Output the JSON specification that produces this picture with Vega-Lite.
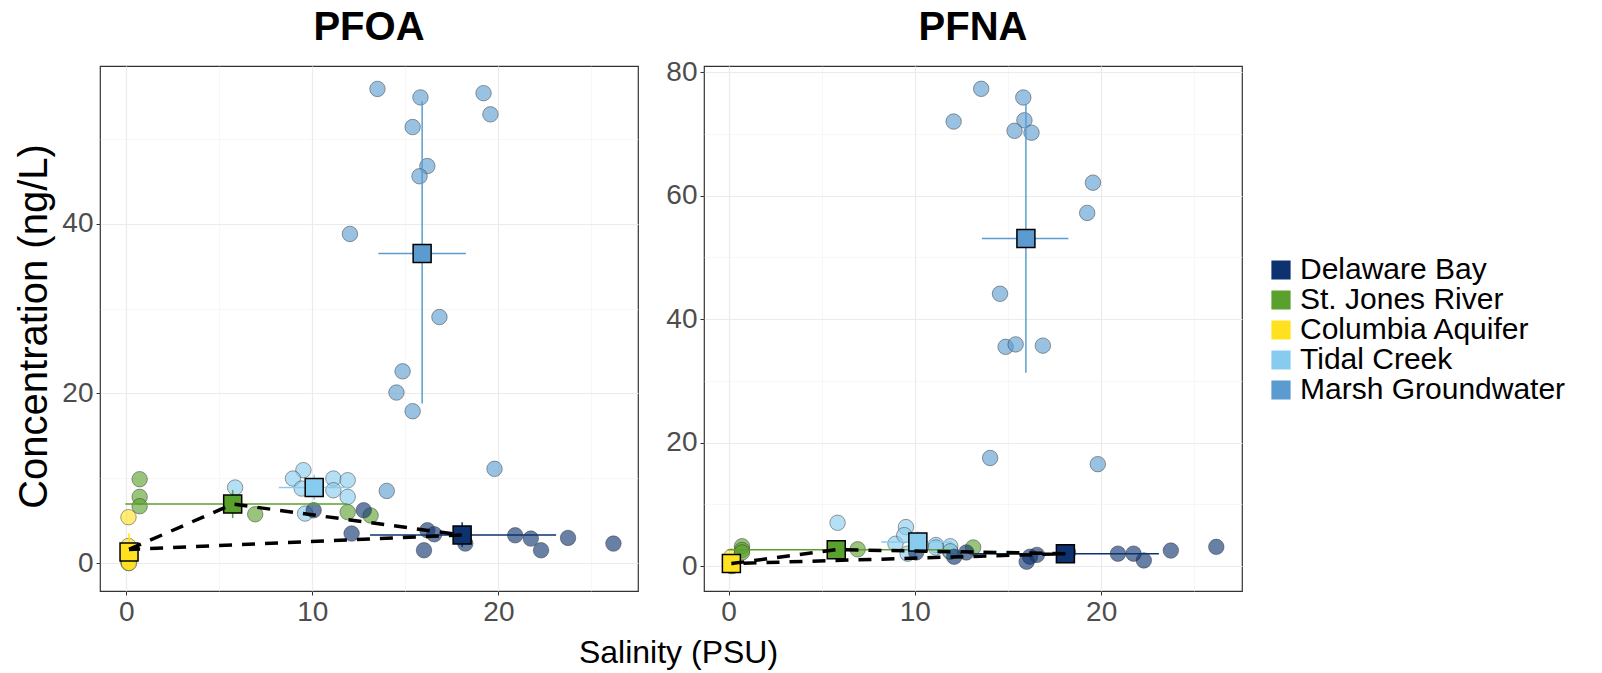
{
  "$schema": "https://vega.github.io/schema/vega-lite/v6.json",
  "autosize": {"type": "none"},
  "padding": {"left": 100, "top": 66, "right": 1502, "bottom": 607},
  "background": "white",
  "datasets": {
    "obs": [
      {"panel": "PFOA", "site": "Columbia Aquifer", "sal": 0.12, "conc": 5.4},
      {"panel": "PFOA", "site": "Columbia Aquifer", "sal": 0.12, "conc": 2.0},
      {"panel": "PFOA", "site": "Columbia Aquifer", "sal": 0.12, "conc": 0.6},
      {"panel": "PFOA", "site": "Columbia Aquifer", "sal": 0.12, "conc": 0.2},
      {"panel": "PFOA", "site": "Columbia Aquifer", "sal": 0.12, "conc": 0.0},
      {"panel": "PFOA", "site": "Columbia Aquifer", "sal": 0.15, "conc": 0.0},
      {"panel": "PFOA", "site": "St. Jones River", "sal": 0.72, "conc": 9.88},
      {"panel": "PFOA", "site": "St. Jones River", "sal": 0.72, "conc": 7.8},
      {"panel": "PFOA", "site": "St. Jones River", "sal": 0.72, "conc": 6.7},
      {"panel": "PFOA", "site": "St. Jones River", "sal": 6.93, "conc": 5.75},
      {"panel": "PFOA", "site": "St. Jones River", "sal": 11.9, "conc": 6.0},
      {"panel": "PFOA", "site": "St. Jones River", "sal": 13.13, "conc": 5.6},
      {"panel": "PFOA", "site": "Tidal Creek", "sal": 5.85, "conc": 8.9},
      {"panel": "PFOA", "site": "Tidal Creek", "sal": 9.52, "conc": 10.95},
      {"panel": "PFOA", "site": "Tidal Creek", "sal": 8.96, "conc": 9.96},
      {"panel": "PFOA", "site": "Tidal Creek", "sal": 9.43, "conc": 8.78},
      {"panel": "PFOA", "site": "Tidal Creek", "sal": 9.61, "conc": 5.83},
      {"panel": "PFOA", "site": "Tidal Creek", "sal": 11.13, "conc": 9.96},
      {"panel": "PFOA", "site": "Tidal Creek", "sal": 11.9, "conc": 9.76},
      {"panel": "PFOA", "site": "Tidal Creek", "sal": 11.9, "conc": 7.8},
      {"panel": "PFOA", "site": "Tidal Creek", "sal": 11.13, "conc": 8.58},
      {"panel": "PFOA", "site": "Delaware Bay", "sal": 10.07, "conc": 6.22},
      {"panel": "PFOA", "site": "Delaware Bay", "sal": 12.76, "conc": 6.22},
      {"panel": "PFOA", "site": "Delaware Bay", "sal": 12.11, "conc": 3.47},
      {"panel": "PFOA", "site": "Delaware Bay", "sal": 16.18, "conc": 3.86},
      {"panel": "PFOA", "site": "Delaware Bay", "sal": 16.55, "conc": 3.39},
      {"panel": "PFOA", "site": "Delaware Bay", "sal": 16.0, "conc": 1.5},
      {"panel": "PFOA", "site": "Delaware Bay", "sal": 18.22, "conc": 2.29},
      {"panel": "PFOA", "site": "Delaware Bay", "sal": 20.9, "conc": 3.27},
      {"panel": "PFOA", "site": "Delaware Bay", "sal": 21.74, "conc": 2.88},
      {"panel": "PFOA", "site": "Delaware Bay", "sal": 22.29, "conc": 1.5},
      {"panel": "PFOA", "site": "Delaware Bay", "sal": 23.74, "conc": 2.96},
      {"panel": "PFOA", "site": "Delaware Bay", "sal": 26.18, "conc": 2.29},
      {"panel": "PFOA", "site": "Marsh Groundwater", "sal": 13.5, "conc": 55.9},
      {"panel": "PFOA", "site": "Marsh Groundwater", "sal": 15.81, "conc": 54.9},
      {"panel": "PFOA", "site": "Marsh Groundwater", "sal": 19.2, "conc": 55.4},
      {"panel": "PFOA", "site": "Marsh Groundwater", "sal": 19.57, "conc": 52.9},
      {"panel": "PFOA", "site": "Marsh Groundwater", "sal": 15.39, "conc": 51.4},
      {"panel": "PFOA", "site": "Marsh Groundwater", "sal": 16.18, "conc": 46.8},
      {"panel": "PFOA", "site": "Marsh Groundwater", "sal": 15.76, "conc": 45.6},
      {"panel": "PFOA", "site": "Marsh Groundwater", "sal": 12.02, "conc": 38.8},
      {"panel": "PFOA", "site": "Marsh Groundwater", "sal": 16.83, "conc": 29.0},
      {"panel": "PFOA", "site": "Marsh Groundwater", "sal": 14.85, "conc": 22.6},
      {"panel": "PFOA", "site": "Marsh Groundwater", "sal": 14.52, "conc": 20.1},
      {"panel": "PFOA", "site": "Marsh Groundwater", "sal": 15.39, "conc": 17.9},
      {"panel": "PFOA", "site": "Marsh Groundwater", "sal": 14.0, "conc": 8.5},
      {"panel": "PFOA", "site": "Marsh Groundwater", "sal": 19.79, "conc": 11.1},
      {"panel": "PFNA", "site": "Columbia Aquifer", "sal": 0.15, "conc": 1.5},
      {"panel": "PFNA", "site": "Columbia Aquifer", "sal": 0.15, "conc": 0.5},
      {"panel": "PFNA", "site": "Columbia Aquifer", "sal": 0.15, "conc": 0.3},
      {"panel": "PFNA", "site": "Columbia Aquifer", "sal": 0.15, "conc": 0.1},
      {"panel": "PFNA", "site": "Columbia Aquifer", "sal": 0.15, "conc": 0.0},
      {"panel": "PFNA", "site": "Columbia Aquifer", "sal": 0.2, "conc": 0.0},
      {"panel": "PFNA", "site": "St. Jones River", "sal": 0.72, "conc": 3.2},
      {"panel": "PFNA", "site": "St. Jones River", "sal": 0.72, "conc": 2.6},
      {"panel": "PFNA", "site": "St. Jones River", "sal": 0.72, "conc": 2.2},
      {"panel": "PFNA", "site": "St. Jones River", "sal": 6.93, "conc": 2.7},
      {"panel": "PFNA", "site": "St. Jones River", "sal": 11.9, "conc": 2.3},
      {"panel": "PFNA", "site": "St. Jones River", "sal": 13.13, "conc": 3.0},
      {"panel": "PFNA", "site": "Tidal Creek", "sal": 5.85, "conc": 7.0},
      {"panel": "PFNA", "site": "Tidal Creek", "sal": 9.52, "conc": 6.3},
      {"panel": "PFNA", "site": "Tidal Creek", "sal": 8.96, "conc": 3.6},
      {"panel": "PFNA", "site": "Tidal Creek", "sal": 9.43, "conc": 5.0},
      {"panel": "PFNA", "site": "Tidal Creek", "sal": 9.61, "conc": 2.0},
      {"panel": "PFNA", "site": "Tidal Creek", "sal": 11.13, "conc": 3.4},
      {"panel": "PFNA", "site": "Tidal Creek", "sal": 11.9, "conc": 3.2},
      {"panel": "PFNA", "site": "Tidal Creek", "sal": 11.9, "conc": 2.4},
      {"panel": "PFNA", "site": "Tidal Creek", "sal": 11.13, "conc": 3.0},
      {"panel": "PFNA", "site": "Delaware Bay", "sal": 10.07, "conc": 2.2},
      {"panel": "PFNA", "site": "Delaware Bay", "sal": 12.76, "conc": 2.2},
      {"panel": "PFNA", "site": "Delaware Bay", "sal": 12.11, "conc": 1.5},
      {"panel": "PFNA", "site": "Delaware Bay", "sal": 16.18, "conc": 1.5},
      {"panel": "PFNA", "site": "Delaware Bay", "sal": 16.55, "conc": 1.8},
      {"panel": "PFNA", "site": "Delaware Bay", "sal": 16.0, "conc": 0.7},
      {"panel": "PFNA", "site": "Delaware Bay", "sal": 18.22, "conc": 2.2},
      {"panel": "PFNA", "site": "Delaware Bay", "sal": 20.9, "conc": 2.0},
      {"panel": "PFNA", "site": "Delaware Bay", "sal": 21.74, "conc": 2.0},
      {"panel": "PFNA", "site": "Delaware Bay", "sal": 22.29, "conc": 0.9},
      {"panel": "PFNA", "site": "Delaware Bay", "sal": 23.74, "conc": 2.5},
      {"panel": "PFNA", "site": "Delaware Bay", "sal": 26.18, "conc": 3.1},
      {"panel": "PFNA", "site": "Marsh Groundwater", "sal": 13.56, "conc": 77.3},
      {"panel": "PFNA", "site": "Marsh Groundwater", "sal": 15.82, "conc": 75.9},
      {"panel": "PFNA", "site": "Marsh Groundwater", "sal": 12.08, "conc": 72.0},
      {"panel": "PFNA", "site": "Marsh Groundwater", "sal": 15.88, "conc": 72.2},
      {"panel": "PFNA", "site": "Marsh Groundwater", "sal": 15.35, "conc": 70.5},
      {"panel": "PFNA", "site": "Marsh Groundwater", "sal": 16.26, "conc": 70.2},
      {"panel": "PFNA", "site": "Marsh Groundwater", "sal": 19.56, "conc": 62.1},
      {"panel": "PFNA", "site": "Marsh Groundwater", "sal": 19.25, "conc": 57.2},
      {"panel": "PFNA", "site": "Marsh Groundwater", "sal": 14.57, "conc": 44.1},
      {"panel": "PFNA", "site": "Marsh Groundwater", "sal": 14.87, "conc": 35.5},
      {"panel": "PFNA", "site": "Marsh Groundwater", "sal": 15.41, "conc": 35.9},
      {"panel": "PFNA", "site": "Marsh Groundwater", "sal": 16.87, "conc": 35.7},
      {"panel": "PFNA", "site": "Marsh Groundwater", "sal": 14.04, "conc": 17.5},
      {"panel": "PFNA", "site": "Marsh Groundwater", "sal": 19.82, "conc": 16.5}
    ],
    "means": [
      {"panel": "PFOA", "site": "Delaware Bay", "sal": 18.05, "conc": 3.3, "xlo": 13.1, "xhi": 23.1, "ylo": 1.9, "yhi": 4.8},
      {"panel": "PFOA", "site": "St. Jones River", "sal": 5.72, "conc": 6.95, "xlo": -0.05, "xhi": 11.9, "ylo": 5.3, "yhi": 8.6},
      {"panel": "PFOA", "site": "Columbia Aquifer", "sal": 0.15, "conc": 1.3, "xlo": 0.05, "xhi": 0.3, "ylo": -0.8, "yhi": 3.5},
      {"panel": "PFOA", "site": "Tidal Creek", "sal": 10.1, "conc": 8.9, "xlo": 8.2, "xhi": 12.0, "ylo": 7.45, "yhi": 10.4},
      {"panel": "PFOA", "site": "Marsh Groundwater", "sal": 15.9, "conc": 36.5, "xlo": 13.55, "xhi": 18.25, "ylo": 18.8, "yhi": 54.4},
      {"panel": "PFNA", "site": "Delaware Bay", "sal": 18.08, "conc": 2.0, "xlo": 13.1, "xhi": 23.1, "ylo": 1.3, "yhi": 2.6},
      {"panel": "PFNA", "site": "St. Jones River", "sal": 5.78, "conc": 2.65, "xlo": -0.05, "xhi": 11.9, "ylo": 2.2, "yhi": 3.1},
      {"panel": "PFNA", "site": "Columbia Aquifer", "sal": 0.15, "conc": 0.39, "xlo": 0.05, "xhi": 0.3, "ylo": 0.0, "yhi": 0.9},
      {"panel": "PFNA", "site": "Tidal Creek", "sal": 10.16, "conc": 3.9, "xlo": 8.2, "xhi": 12.0, "ylo": 2.3, "yhi": 5.6},
      {"panel": "PFNA", "site": "Marsh Groundwater", "sal": 15.96, "conc": 53.06, "xlo": 13.6, "xhi": 18.24, "ylo": 31.3, "yhi": 74.9}
    ],
    "mix": [
      {"panel": "PFOA", "ord": 1, "sal": 0.15, "conc": 1.6},
      {"panel": "PFOA", "ord": 2, "sal": 5.72, "conc": 6.95},
      {"panel": "PFOA", "ord": 3, "sal": 18.05, "conc": 3.3},
      {"panel": "PFOA", "ord": 4, "sal": 0.15, "conc": 1.6},
      {"panel": "PFNA", "ord": 1, "sal": 0.15, "conc": 0.39},
      {"panel": "PFNA", "ord": 2, "sal": 5.78, "conc": 2.65},
      {"panel": "PFNA", "ord": 3, "sal": 18.08, "conc": 2.0},
      {"panel": "PFNA", "ord": 4, "sal": 0.15, "conc": 0.39}
    ]
  },
  "config": {
    "font": "Liberation Sans",
    "view": {"stroke": "#333333", "strokeWidth": 1.2},
    "axis": {
      "domain": false,
      "labelFont": "Liberation Sans",
      "labelFontSize": 28,
      "labelColor": "#4D4D4D",
      "labelPadding": 3,
      "tickSize": 4,
      "tickColor": "#333333",
      "titleFont": "Liberation Sans",
      "titleFontSize": 32,
      "titleFontWeight": "normal",
      "titleColor": "#000000",
      "gridColor": "#EBEBEB"
    },
    "legend": {
      "labelFont": "Liberation Sans",
      "labelFontSize": 30,
      "labelColor": "#000000",
      "labelLimit": 0
    },
    "title": {"font": "Liberation Sans", "fontSize": 40, "fontWeight": "bold", "color": "#000000"}
  },
  "spacing": 66,
  "bounds": "flush",
  "resolve": {"scale": {"x": "independent", "y": "independent", "color": "shared"}},
  "hconcat": [
    {
      "width": 538,
      "height": 525,
      "title": {"text": "PFOA", "anchor": "middle", "offset": 18, "frame": "group"},
      "layer": [
        {
          "data": {"name": "obs"},
          "transform": [{"filter": "datum.panel === 'PFOA'"}],
          "mark": {"type": "circle", "size": 240, "fillOpacity": 0.62, "stroke": "#333333", "strokeWidth": 0.6, "strokeOpacity": 0.8},
          "encoding": {
            "x": {"field": "sal", "type": "quantitative", "scale": {"domain": [-1.41, 27.5], "nice": false, "zero": false},
              "axis": {"values": [0, 5, 10, 15, 20, 25], "labelExpr": "datum.value % 10 === 0 ? datum.label : ''",
                "title": "Salinity (PSU)", "titleX": 578, "titleY": 61, "titleBaseline": "middle", "titleAlign": "center",
                "tickColor": {"condition": {"test": "datum.value % 10 !== 0", "value": "transparent"}, "value": "#333333"},
                "gridWidth": {"condition": {"test": "datum.value % 10 === 0", "value": 1.2}, "value": 0.6},
                "gridColor": {"condition": {"test": "datum.value % 10 === 0", "value": "#EBEBEB"}, "value": "#F2F2F2"}}},
            "y": {"field": "conc", "type": "quantitative", "scale": {"domain": [-3.3, 58.6], "nice": false, "zero": false},
              "axis": {"values": [0, 10, 20, 30, 40, 50], "labelExpr": "datum.value % 20 === 0 ? datum.label : ''",
                "title": "Concentration (ng/L)", "titleFontSize": 40, "titleX": -66, "titleY": 260, "titleBaseline": "middle", "titleAlign": "center", "titleAngle": -90,
                "tickColor": {"condition": {"test": "datum.value % 20 !== 0", "value": "transparent"}, "value": "#333333"},
                "gridWidth": {"condition": {"test": "datum.value % 20 === 0", "value": 1.2}, "value": 0.6},
                "gridColor": {"condition": {"test": "datum.value % 20 === 0", "value": "#EBEBEB"}, "value": "#F2F2F2"}}},
            "color": {"field": "site", "type": "nominal",
              "scale": {"domain": ["Delaware Bay", "St. Jones River", "Columbia Aquifer", "Tidal Creek", "Marsh Groundwater"],
                "range": ["#0C3270", "#5AA02C", "#FFE11F", "#87CCEE", "#5B9BCF"]},
              "legend": {"title": null, "orient": "none", "legendX": 1166, "legendY": 189, "padding": 0,
                "symbolType": "square", "symbolSize": 324, "symbolStrokeColor": "#000000", "symbolStrokeWidth": 1.2, "symbolOpacity": 1,
                "symbolFillOpacity": 1, "rowPadding": 0, "labelOffset": 4, "labelLimit": 0,
                "encode": {"symbols": {"update": {"stroke": {"value": "#000000"}, "strokeWidth": {"value": 1.2}, "opacity": {"value": 1}, "fillOpacity": {"value": 1}}}}}}
          }
        },
        {
          "data": {"name": "means"},
          "transform": [{"filter": "datum.panel === 'PFOA'"}],
          "mark": {"type": "rule", "strokeWidth": 1.5},
          "encoding": {
            "x": {"field": "xlo", "type": "quantitative"},
            "x2": {"field": "xhi"},
            "y": {"field": "conc", "type": "quantitative"},
            "color": {"field": "site", "type": "nominal", "legend": null}
          }
        },
        {
          "data": {"name": "means"},
          "transform": [{"filter": "datum.panel === 'PFOA'"}],
          "mark": {"type": "rule", "strokeWidth": 1.5},
          "encoding": {
            "x": {"field": "sal", "type": "quantitative"},
            "y": {"field": "ylo", "type": "quantitative"},
            "y2": {"field": "yhi"},
            "color": {"field": "site", "type": "nominal", "legend": null}
          }
        },
        {
          "data": {"name": "means"},
          "transform": [{"filter": "datum.panel === 'PFOA'"}],
          "mark": {"type": "square", "size": 324, "filled": true, "opacity": 1, "stroke": "#000000", "strokeWidth": 1.5},
          "encoding": {
            "x": {"field": "sal", "type": "quantitative"},
            "y": {"field": "conc", "type": "quantitative"},
            "color": {"field": "site", "type": "nominal"}
          }
        },
        {
          "data": {"name": "mix"},
          "transform": [{"filter": "datum.panel === 'PFOA'"}],
          "mark": {"type": "line", "color": "#000000", "strokeWidth": 3.5, "strokeDash": [13, 10]},
          "encoding": {
            "x": {"field": "sal", "type": "quantitative"},
            "y": {"field": "conc", "type": "quantitative"},
            "order": {"field": "ord", "type": "quantitative"}
          }
        }
      ]
    },
    {
      "width": 538,
      "height": 525,
      "title": {"text": "PFNA", "anchor": "middle", "offset": 10, "frame": "group"},
      "layer": [
        {
          "data": {"name": "obs"},
          "transform": [{"filter": "datum.panel === 'PFNA'"}],
          "mark": {"type": "circle", "size": 240, "fillOpacity": 0.62, "stroke": "#333333", "strokeWidth": 0.6, "strokeOpacity": 0.8},
          "encoding": {
            "x": {"field": "sal", "type": "quantitative", "scale": {"domain": [-1.32, 27.56], "nice": false, "zero": false},
              "axis": {"values": [0, 5, 10, 15, 20, 25], "labelExpr": "datum.value % 10 === 0 ? datum.label : ''",
                "title": null,
                "tickColor": {"condition": {"test": "datum.value % 10 !== 0", "value": "transparent"}, "value": "#333333"},
                "gridWidth": {"condition": {"test": "datum.value % 10 === 0", "value": 1.2}, "value": 0.6},
                "gridColor": {"condition": {"test": "datum.value % 10 === 0", "value": "#EBEBEB"}, "value": "#F2F2F2"}}},
            "y": {"field": "conc", "type": "quantitative", "scale": {"domain": [-4.05, 81.0], "nice": false, "zero": false},
              "axis": {"values": [0, 10, 20, 30, 40, 50, 60, 70, 80], "labelExpr": "datum.value % 20 === 0 ? datum.label : ''",
                "title": null,
                "tickColor": {"condition": {"test": "datum.value % 20 !== 0", "value": "transparent"}, "value": "#333333"},
                "gridWidth": {"condition": {"test": "datum.value % 20 === 0", "value": 1.2}, "value": 0.6},
                "gridColor": {"condition": {"test": "datum.value % 20 === 0", "value": "#EBEBEB"}, "value": "#F2F2F2"}}},
            "color": {"field": "site", "type": "nominal"}
          }
        },
        {
          "data": {"name": "means"},
          "transform": [{"filter": "datum.panel === 'PFNA'"}],
          "mark": {"type": "rule", "strokeWidth": 1.5},
          "encoding": {
            "x": {"field": "xlo", "type": "quantitative"},
            "x2": {"field": "xhi"},
            "y": {"field": "conc", "type": "quantitative"},
            "color": {"field": "site", "type": "nominal", "legend": null}
          }
        },
        {
          "data": {"name": "means"},
          "transform": [{"filter": "datum.panel === 'PFNA'"}],
          "mark": {"type": "rule", "strokeWidth": 1.5},
          "encoding": {
            "x": {"field": "sal", "type": "quantitative"},
            "y": {"field": "ylo", "type": "quantitative"},
            "y2": {"field": "yhi"},
            "color": {"field": "site", "type": "nominal", "legend": null}
          }
        },
        {
          "data": {"name": "means"},
          "transform": [{"filter": "datum.panel === 'PFNA'"}],
          "mark": {"type": "square", "size": 324, "filled": true, "opacity": 1, "stroke": "#000000", "strokeWidth": 1.5},
          "encoding": {
            "x": {"field": "sal", "type": "quantitative"},
            "y": {"field": "conc", "type": "quantitative"},
            "color": {"field": "site", "type": "nominal"}
          }
        },
        {
          "data": {"name": "mix"},
          "transform": [{"filter": "datum.panel === 'PFNA'"}],
          "mark": {"type": "line", "color": "#000000", "strokeWidth": 3.5, "strokeDash": [13, 10]},
          "encoding": {
            "x": {"field": "sal", "type": "quantitative"},
            "y": {"field": "conc", "type": "quantitative"},
            "order": {"field": "ord", "type": "quantitative"}
          }
        }
      ]
    }
  ]
}
